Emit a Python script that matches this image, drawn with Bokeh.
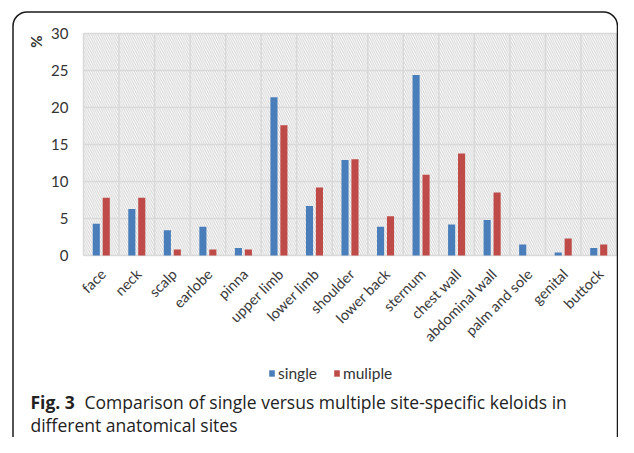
from math import pi
from bokeh.plotting import figure
from bokeh.models import Range1d, Label, Legend, LegendItem, BoxAnnotation
from bokeh.core.properties import value
from bokeh.embed import file_html
from bokeh.resources import INLINE

categories = ["face", "neck", "scalp", "earlobe", "pinna", "upper limb", "lower limb",
              "shoulder", "lower back", "sternum", "chest wall", "abdominal wall",
              "palm and sole", "genital", "buttock"]
single = [4.3, 6.3, 3.4, 3.9, 1.0, 21.4, 6.7, 12.9, 3.9, 24.4, 4.2, 4.8, 1.5, 0.4, 1.0]
multiple = [7.8, 7.8, 0.8, 0.8, 0.8, 17.6, 9.2, 13.0, 5.3, 10.9, 13.8, 8.5, 0.0, 2.3, 1.5]
y_ticks = [0, 5, 10, 15, 20, 25, 30]
y_max = 30

BLUE = "#4A7EBB"
RED = "#BE4B48"
GRID = "#d9d9d9"

# canvas layout (pixels inside the figure)
W, H = 618, 437
PL, PR, PT, PB = 83, 616, 33, 255      # chart area in canvas pixels
n = len(categories)
sx = (PR - PL) / n                      # px per category
sy = (PB - PT) / y_max                  # px per unit

def cx(px):   # canvas px -> data x
    return (px - PL) / sx

def cy(py):   # canvas px (from top) -> data y
    return (PB - py) / sy

p = figure(width=W, height=H, output_backend="svg", toolbar_location=None,
           x_range=Range1d(cx(0), cx(W)), y_range=Range1d(cy(H), cy(0)),
           x_axis_type=None, y_axis_type=None, min_border=0)
p.outline_line_color = None
p.background_fill_color = "white"
p.border_fill_color = "white"
p.xgrid.visible = False
p.ygrid.visible = False

# hatched chart background
p.quad(left=[0], right=[n], bottom=[0], top=[y_max], fill_color="white", line_color=None,
       hatch_pattern="left_diagonal_line", hatch_color="#d2d2d2", hatch_scale=4.5,
       hatch_weight=1)

# grid lines
bounds = list(range(n + 1))
p.segment(x0=bounds, x1=bounds, y0=[0] * len(bounds), y1=[y_max] * len(bounds),
          line_color=GRID, line_width=1.5)
p.segment(x0=[0] * len(y_ticks), x1=[n] * len(y_ticks), y0=y_ticks, y1=y_ticks,
          line_color=GRID, line_width=1.5)

# bars
centers = [i + 0.5 for i in range(n)]
xs_single = [c - 0.14 for c in centers]
xs_multi = [c + 0.14 for c in centers]
r1 = p.vbar(x=xs_single, top=single, width=0.2, fill_color=BLUE, line_color=None)
r2 = p.vbar(x=xs_multi, top=multiple, width=0.2, fill_color=RED, line_color=None)

# y tick labels
p.text(x=[cx(68)] * len(y_ticks), y=y_ticks, text=[str(t) for t in y_ticks],
       text_align="right", text_baseline="middle", text_font=value("Lato"),
       text_font_size="15px", text_color="#333333")

# x tick labels (rotated)
p.text(x=[c + 0.05 for c in centers], y=[cy(271)] * n, text=categories, angle=pi / 4,
       text_align="right", text_baseline="middle", text_font=value("Lato"),
       text_font_size="14.5px", text_color="#3a3a3a")

# y label
p.add_layout(Label(x=cx(35), y=cy(41), text="%", angle=pi / 2, text_font="Lato",
                   text_font_style="bold", text_font_size="15px", text_color="#333333",
                   text_align="center", text_baseline="middle"))

# legend
legend = Legend(items=[LegendItem(label="single", renderers=[r1]),
                       LegendItem(label="muliple", renderers=[r2])],
                orientation="horizontal", location=(268, H - 382),
                border_line_color=None, background_fill_alpha=0,
                label_text_font="Lato", label_text_font_size="15.5px",
                label_text_color="#333333", glyph_width=7, glyph_height=8,
                label_standoff=3, spacing=16, padding=0, margin=0)
p.add_layout(legend, "center")

# caption
cap = dict(text_font="Open Sans", text_font_size="17.5px", text_color="#222222",
           text_baseline="middle")
p.add_layout(Label(x=cx(30), y=cy(401), text="Fig. 3", text_font_style="bold", **cap))
p.add_layout(Label(x=cx(84), y=cy(401),
                   text="Comparison of single versus multiple site-specific keloids in", **cap))
p.add_layout(Label(x=cx(30), y=cy(424), text="different anatomical sites", **cap))

# rounded frame
p.add_layout(BoxAnnotation(left=cx(12.5), right=cx(617), top=cy(11.5), bottom=cy(480),
                           fill_alpha=0, line_color="#1a1a1a", line_alpha=1, line_width=1.5,
                           border_radius=14))

open("out.html", "w").write(file_html(p, INLINE))
